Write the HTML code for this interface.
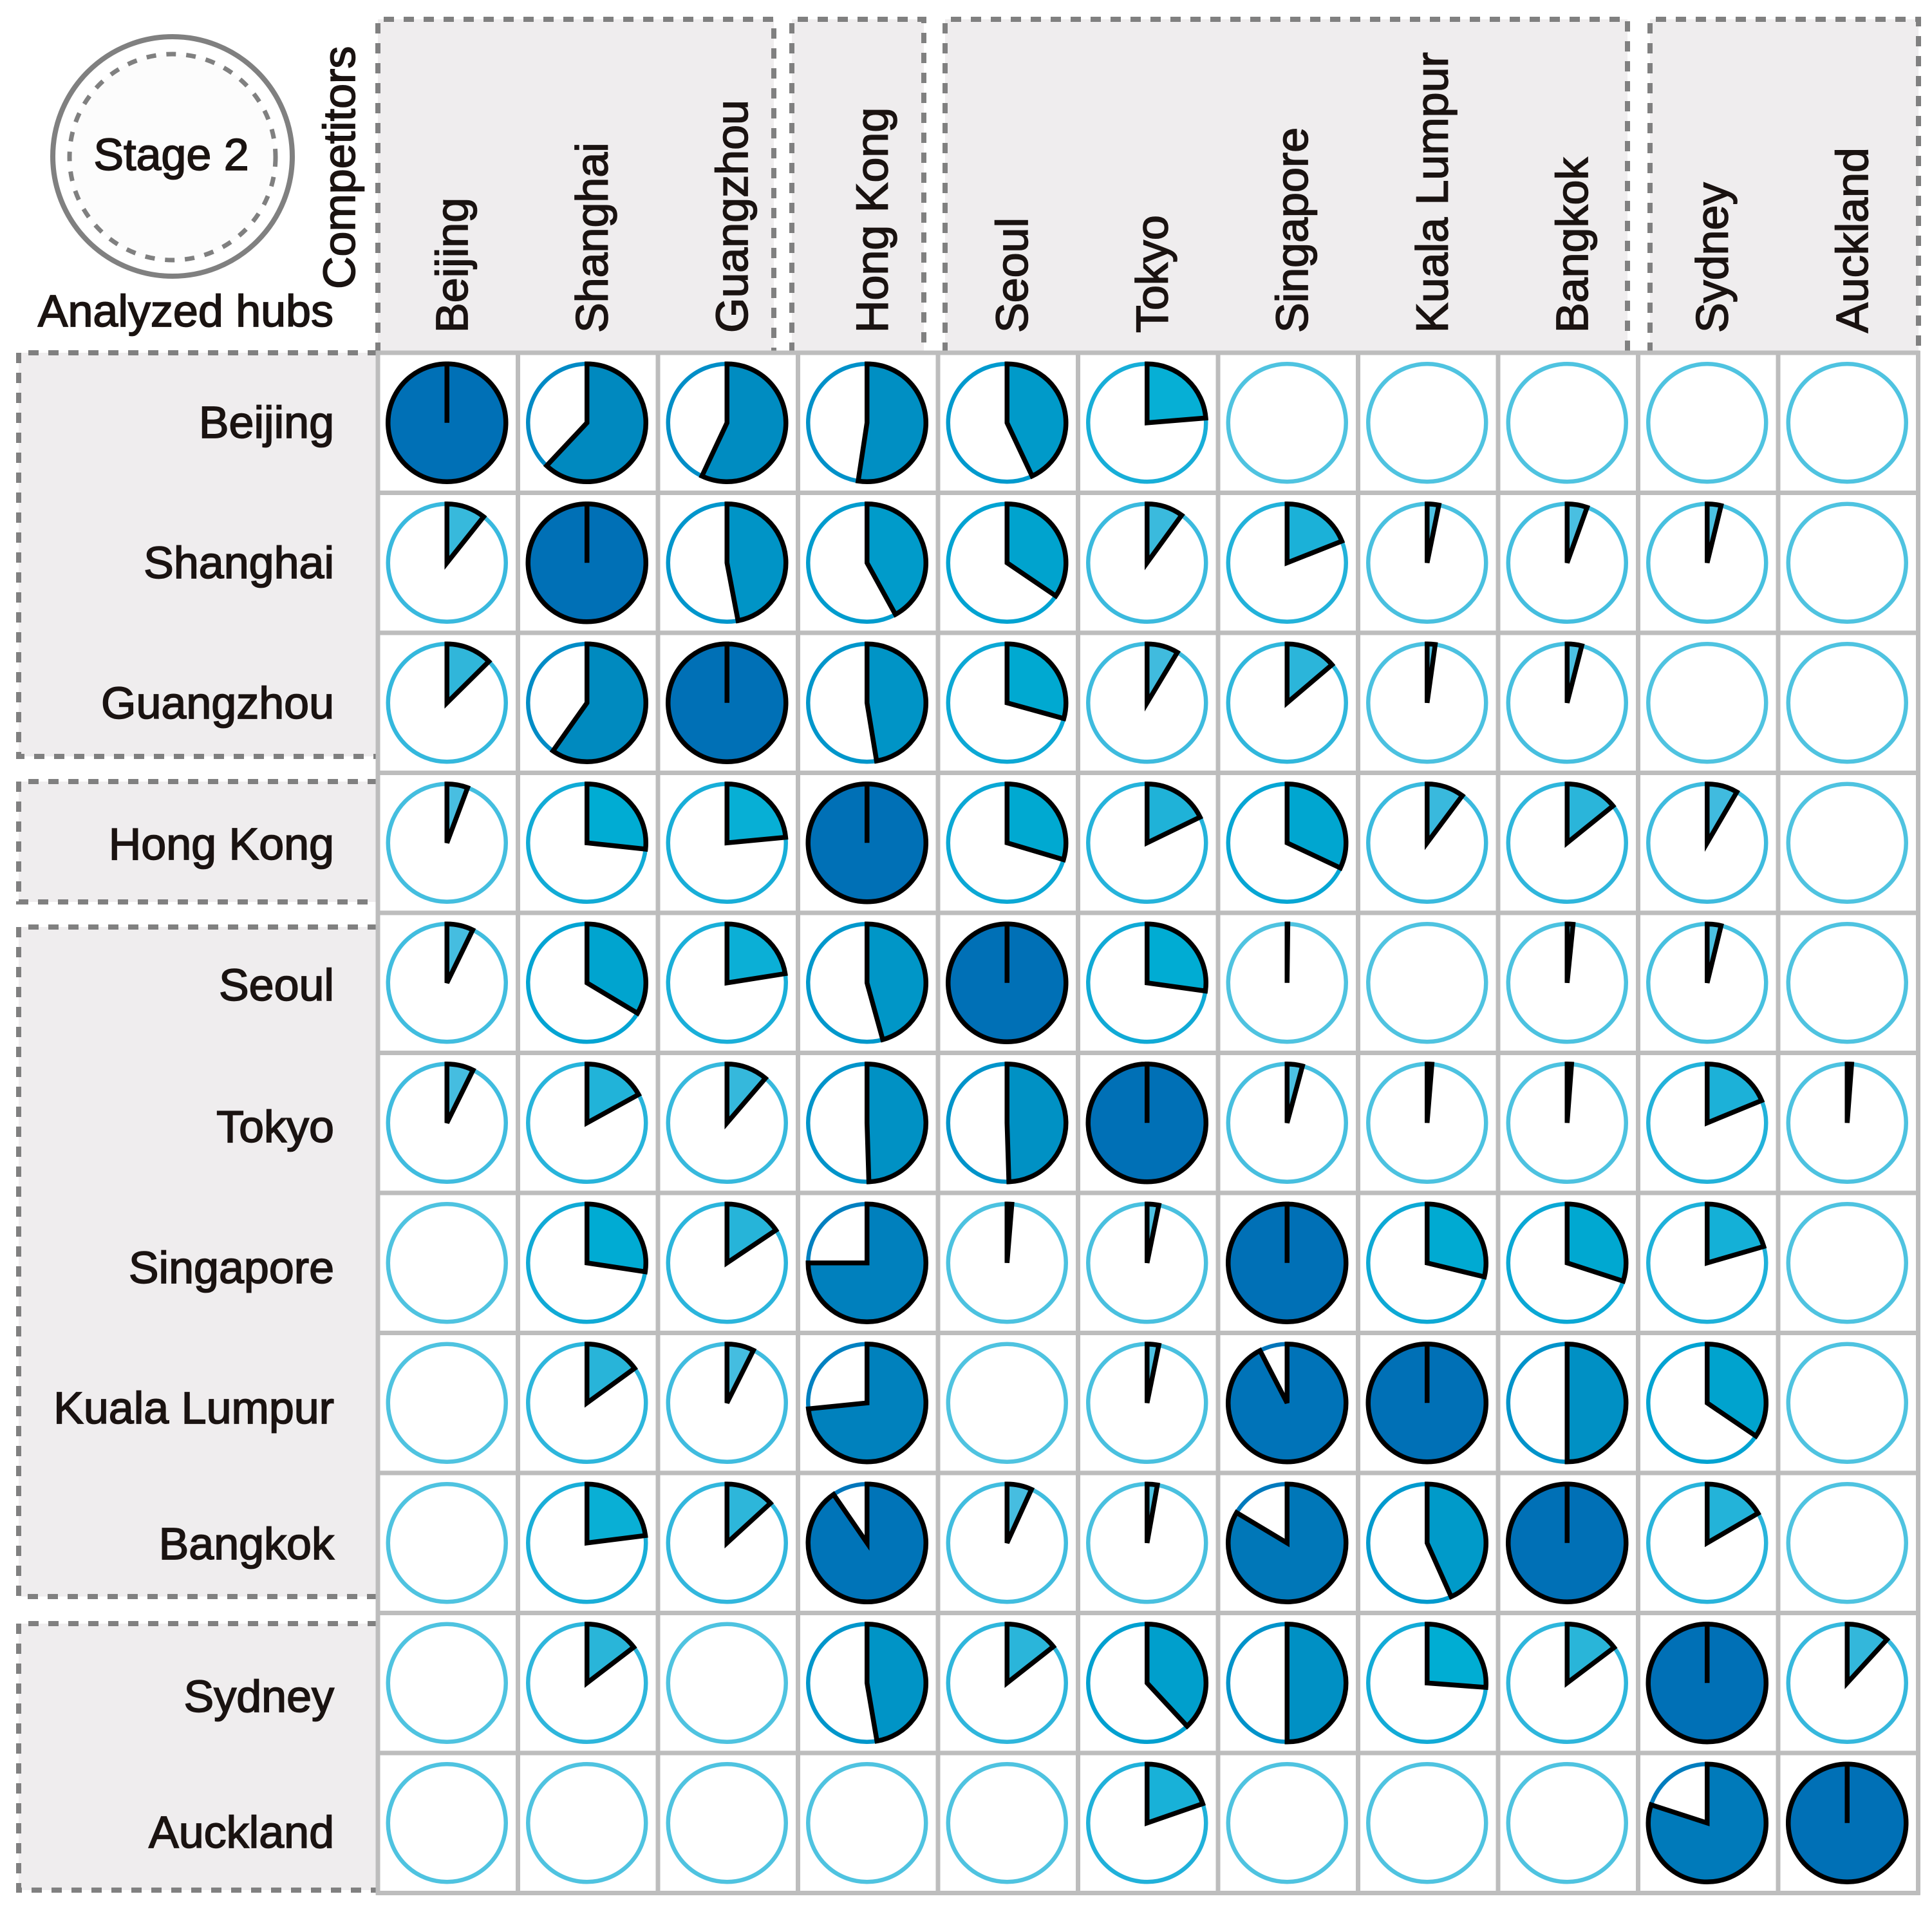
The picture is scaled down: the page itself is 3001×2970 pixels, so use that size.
<!DOCTYPE html>
<html lang="en">
<head>
<meta charset="utf-8">
<title>Stage 2 competitor matrix</title>
<style>
html,body{margin:0;padding:0;background:#fff;}
svg{display:block;}
text{font-family:"Liberation Sans",Arial,sans-serif;font-size:70px;fill:#1a1311;stroke:#1a1311;stroke-width:1.7px;}
</style>
</head>
<body>
<svg id="chart" xmlns="http://www.w3.org/2000/svg" width="3001" height="2970" viewBox="0 0 3001 2970">
  <rect x="0" y="0" width="3001" height="2970" fill="#ffffff"/>

  <g fill="#efedee">
    <rect x="587" y="30" width="615" height="518"/>
    <rect x="1230" y="30" width="205" height="518"/>
    <rect x="1468" y="30" width="1060" height="518"/>
    <rect x="2563" y="30" width="417" height="518"/>
  </g>
  <g fill="#efedee">
    <rect x="29" y="548" width="558" height="627"/>
    <rect x="29" y="1214" width="558" height="187"/>
    <rect x="29" y="1440" width="558" height="1040"/>
    <rect x="29" y="2522" width="558" height="414"/>
  </g>
  <g fill="none" stroke="#808080" stroke-width="8" stroke-dasharray="16 15">
    <path d="M587 548V30H1202V548"/>
    <path d="M1230 548V30H1435V548"/>
    <path d="M1468 548V30H2528V548"/>
    <path d="M2563 548V30H2980V548"/>
    <path d="M587 548H29V1175H587"/>
    <path d="M587 1214H29V1401H587"/>
    <path d="M587 1440H29V2480H587"/>
    <path d="M587 2522H29V2936H587"/>
  </g>

  <g>
    <circle cx="268" cy="243" r="186" fill="#ffffff" stroke="#808080" stroke-width="8"/>
    <circle cx="268" cy="244" r="160" fill="#fcfcfc" stroke="#808080" stroke-width="7" stroke-dasharray="15 16"/>
    <text x="266" y="264" text-anchor="middle">Stage 2</text>
  </g>
  <text x="518" y="507" text-anchor="end">Analyzed hubs</text>
  <text transform="translate(551 449) rotate(-90)">Competitors</text>

  <g text-anchor="end">
    <text x="519" y="680">Beijing</text>
    <text x="519" y="898">Shanghai</text>
    <text x="519" y="1116">Guangzhou</text>
    <text x="519" y="1335">Hong Kong</text>
    <text x="519" y="1554">Seoul</text>
    <text x="519" y="1774">Tokyo</text>
    <text x="519" y="1993">Singapore</text>
    <text x="519" y="2211">Kuala Lumpur</text>
    <text x="519" y="2422">Bangkok</text>
    <text x="519" y="2659">Sydney</text>
    <text x="519" y="2870">Auckland</text>
  </g>
  <g>
    <text transform="translate(726 517) rotate(-90)">Beijing</text>
    <text transform="translate(943.5 517) rotate(-90)">Shanghai</text>
    <text transform="translate(1161 517) rotate(-90)">Guangzhou</text>
    <text transform="translate(1378.5 517) rotate(-90)">Hong Kong</text>
    <text transform="translate(1596 517) rotate(-90)">Seoul</text>
    <text transform="translate(1813.5 517) rotate(-90)">Tokyo</text>
    <text transform="translate(2031 517) rotate(-90)">Singapore</text>
    <text transform="translate(2248.5 517) rotate(-90)">Kuala Lumpur</text>
    <text transform="translate(2466 517) rotate(-90)">Bangkok</text>
    <text transform="translate(2683.5 517) rotate(-90)">Sydney</text>
    <text transform="translate(2901 517) rotate(-90)">Auckland</text>
  </g>
  <g id="grid"></g>
  <g id="pies"></g>
</svg>
<script>
const hubs = ["Beijing","Shanghai","Guangzhou","Hong Kong","Seoul","Tokyo","Singapore","Kuala Lumpur","Bangkok","Sydney","Auckland"];
const competitors = ["Beijing","Shanghai","Guangzhou","Hong Kong","Seoul","Tokyo","Singapore","Kuala Lumpur","Bangkok","Sydney","Auckland"];

const beijingShares    = [100, 62, 57, 52.4, 43, 23.7, 0, 0, 0, 0, 0];
const shanghaiShares   = [10.7, 100, 47, 42, 34.5, 10, 19, 3.2, 5.5, 3.8, 0];
const guangzhouShares  = [12.6, 59.8, 100, 47.4, 29.3, 8.6, 13.8, 2.2, 4, 0, 0];
const hongKongShares   = [5.7, 26.7, 23.5, 100, 29.6, 17.8, 32, 10.2, 14.2, 8.4, 0];
const seoulShares      = [7.2, 33.6, 22.5, 45.7, 100, 27.2, 0.2, 0, 1.6, 3.8, 0];
const tokyoShares      = [7.3, 17, 11.3, 49.5, 49.5, 100, 4.2, 1.3, 1.2, 18.8, 1.2];
const singaporeShares  = [0, 27.4, 15.6, 75, 1.3, 3.2, 100, 28.8, 30, 20.5, 0];
const kualaLumpurShares = [0, 15, 7.4, 73.4, 0, 3.2, 92.4, 100, 50, 34.5, 0];
const bangkokShares    = [0, 23, 13.2, 90.4, 6.8, 2.8, 83.6, 43.3, 100, 16.6, 0];
const sydneyShares     = [0, 14.6, 0, 47.3, 14.4, 38.1, 50, 26.2, 14.7, 100, 11.8];
const aucklandShares   = [0, 0, 0, 0, 0, 19.7, 0, 0, 0, 80, 100];

const shareRows = [beijingShares, shanghaiShares, guangzhouShares, hongKongShares, seoulShares, tokyoShares, singaporeShares, kualaLumpurShares, bangkokShares, sydneyShares, aucklandShares];

const fillStopShares = [0, 7, 13, 19, 25, 33, 43, 50, 60, 75, 83, 92, 100];
const fillStopColors = ["#52c5e4","#46bde0","#2eb6da","#1bb1d8","#00aed4","#00a5cf","#009ac9","#0090c4","#008abf","#0080bd","#0077b8","#0073b8","#0070b6"];
const ringStopShares = [0, 10, 20, 35, 50, 75, 100];
const ringStopColors = ["#4fc3e0","#3bbade","#1fb1da","#00a3d2","#0093ca","#0080c0","#0070b6"];

const SVG_NS = "http://www.w3.org/2000/svg";
const gridLeft = 587, gridTop = 548, cellSize = 217.5, pieRadius = 91.5, pieShiftX = -1.5;

function xAxis(col) { return gridLeft + cellSize * col; }
function yAxis(row) { return gridTop + cellSize * row; }
function angleAxis(share) { return share / 100 * 2 * Math.PI; }

function hexToRgb(hex) {
  return [1, 3, 5].map(function (i) { return parseInt(hex.slice(i, i + 2), 16); });
}
function colorScale(share, stops, colors) {
  for (let i = 1; i < stops.length; i++) {
    if (share <= stops[i]) {
      const t = (share - stops[i - 1]) / (stops[i] - stops[i - 1]);
      const a = hexToRgb(colors[i - 1]), b = hexToRgb(colors[i]);
      return "rgb(" + a.map(function (v, k) { return Math.round(v + (b[k] - v) * t); }).join(",") + ")";
    }
  }
  return colors[colors.length - 1];
}
function slug(name) { return name.toLowerCase().replace(/\s+/g, "-"); }

const gridGroup = document.getElementById("grid");
const cellBack = document.createElementNS(SVG_NS, "rect");


cellBack.setAttribute("x", xAxis(0));
cellBack.setAttribute("y", yAxis(0));
cellBack.setAttribute("width", cellSize * competitors.length);
cellBack.setAttribute("height", cellSize * hubs.length);
cellBack.setAttribute("fill", "#ffffff");
gridGroup.appendChild(cellBack);

for (let i = 0; i <= competitors.length; i++) {
  const line = document.createElementNS(SVG_NS, "line");
  
  
  line.setAttribute("x1", xAxis(i));
  line.setAttribute("x2", xAxis(i));
  line.setAttribute("y1", yAxis(0) - 3);
  line.setAttribute("y2", yAxis(hubs.length) + 3);
  line.setAttribute("stroke", "#bdbdbd");
  line.setAttribute("stroke-width", "7");
  gridGroup.appendChild(line);
}
for (let j = 0; j <= hubs.length; j++) {
  const line = document.createElementNS(SVG_NS, "line");
  
  
  line.setAttribute("x1", xAxis(0) - 3);
  line.setAttribute("x2", xAxis(competitors.length) + 3);
  line.setAttribute("y1", yAxis(j));
  line.setAttribute("y2", yAxis(j));
  line.setAttribute("stroke", "#bdbdbd");
  line.setAttribute("stroke-width", "7");
  gridGroup.appendChild(line);
}

const pieGroup = document.getElementById("pies");
shareRows.forEach(function (shares, row) {
  shares.forEach(function (share, col) {
    const cx = xAxis(col + 0.5) + pieShiftX;
    const cy = yAxis(row + 0.5);
    const pieId = slug(hubs[row]) + "-vs-" + slug(competitors[col]);

    const ring = document.createElementNS(SVG_NS, "circle");
    
    
    ring.setAttribute("cx", cx);
    ring.setAttribute("cy", cy);
    ring.setAttribute("r", pieRadius);
    ring.setAttribute("fill", "#ffffff");
    ring.setAttribute("stroke", colorScale(share, ringStopShares, ringStopColors));
    ring.setAttribute("stroke-width", "6.5");
    pieGroup.appendChild(ring);

    if (share <= 0) return;

    const angle = angleAxis(Math.min(share, 99.999));
    const endX = cx + pieRadius * Math.sin(angle);
    const endY = cy - pieRadius * Math.cos(angle);
    const largeArc = share > 50 ? 1 : 0;
    const wedge = document.createElementNS(SVG_NS, "path");
    
    
    wedge.setAttribute("d", "M" + cx + " " + cy + "L" + cx + " " + (cy - pieRadius) + "A" + pieRadius + " " + pieRadius + " 0 " + largeArc + " 1 " + endX + " " + endY + "Z");
    wedge.setAttribute("fill", colorScale(share, fillStopShares, fillStopColors));
    wedge.setAttribute("stroke", "#000000");
    wedge.setAttribute("stroke-width", "7.5");
    wedge.setAttribute("stroke-linejoin", "miter");
    pieGroup.appendChild(wedge);
  });
});
</script>
</body>
</html>
